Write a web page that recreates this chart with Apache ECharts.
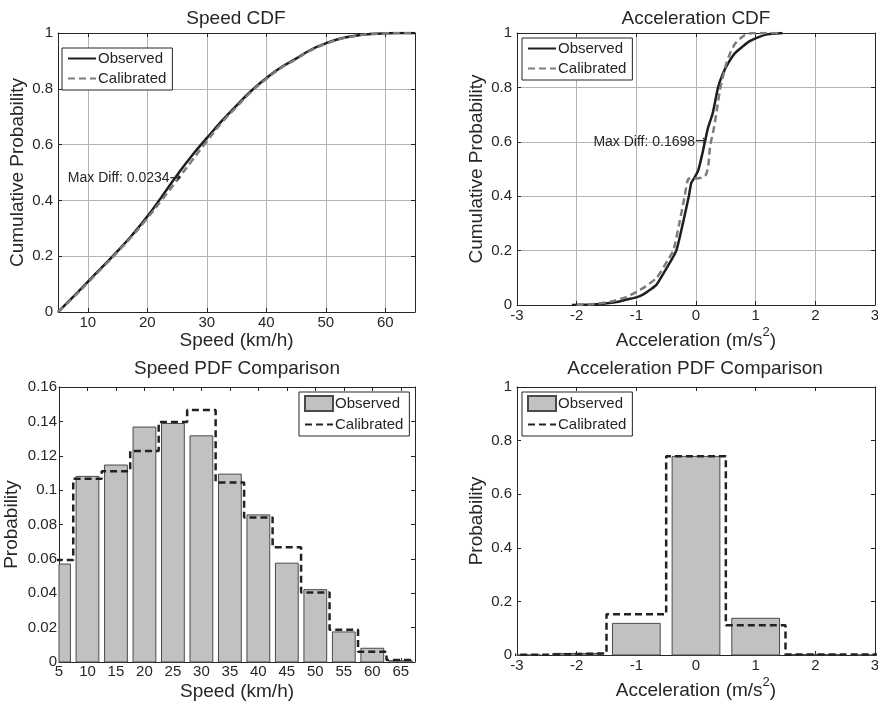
<!DOCTYPE html>
<html>
<head>
<meta charset="utf-8">
<script src="https://cdn.jsdelivr.net/npm/echarts@6/dist/echarts.min.js"></script>
<style>
  html, body { margin: 0; padding: 0; background: #fff; }
  #chart { width: 878px; height: 702px; }
</style>
</head>
<body>
<div id="chart"></div>
<script>
// ---------------- data ----------------
// Speed CDF (km/h vs cumulative probability)
const speedCdfX          = [5, 7.5, 10, 12.5, 15, 17.5, 20, 22.5, 25, 27.5, 30, 32.5, 35, 37.5, 40, 42.5, 45, 47.5, 50, 52.5, 55, 57.5, 60, 62.5, 65];
const speedCdfObserved   = [0, 0.053, 0.108, 0.163, 0.218, 0.277, 0.342, 0.415, 0.49, 0.56, 0.623, 0.684, 0.74, 0.793, 0.838, 0.877, 0.908, 0.94, 0.963, 0.98, 0.99, 0.996, 0.999, 1, 1];
const speedCdfCalibrated = [0, 0.051, 0.105, 0.16, 0.215, 0.273, 0.336, 0.403, 0.472, 0.542, 0.612, 0.678, 0.735, 0.79, 0.835, 0.875, 0.906, 0.938, 0.961, 0.979, 0.99, 0.996, 0.999, 1, 1];
const speedCdfTicks      = [10, 20, 30, 40, 50, 60];
const speedMaxDiff       = 0.0234;
const speedMaxDiffAt     = [25.8, 0.48];

// Acceleration CDF (m/s^2 vs cumulative probability)
const accelObsX = [-2.08, -1.8, -1.56, -1.3, -1.16, -1.0, -0.89, -0.77, -0.66, -0.54, -0.44, -0.33, -0.22, -0.12, -0.08, -0.02, 0.04, 0.1, 0.15, 0.2, 0.28, 0.37, 0.45, 0.54, 0.65, 0.78, 0.9, 1.06, 1.2, 1.45];
const accelObsP = [0, 0.002, 0.005, 0.012, 0.02, 0.028, 0.038, 0.056, 0.075, 0.118, 0.155, 0.2, 0.3, 0.4, 0.448, 0.47, 0.497, 0.55, 0.6, 0.65, 0.705, 0.8, 0.85, 0.889, 0.925, 0.95, 0.97, 0.986, 0.995, 1];
const accelCalX = [-2.0, -1.7, -1.44, -1.16, -0.89, -0.66, -0.47, -0.38, -0.28, -0.19, -0.15, -0.12, -0.05, 0.1, 0.17, 0.21, 0.23, 0.25, 0.3, 0.34, 0.41, 0.51, 0.58, 0.66, 0.8, 0.95, 1.4];
const accelCalP = [0, 0.004, 0.012, 0.03, 0.062, 0.1, 0.166, 0.2, 0.3, 0.4, 0.45, 0.465, 0.465, 0.468, 0.48, 0.52, 0.57, 0.6, 0.65, 0.705, 0.8, 0.889, 0.93, 0.962, 0.99, 1, 1];
const accelMaxDiff   = 0.1698;
const accelMaxDiffAt = [0.19, 0.6];

// Speed PDF (bins of 5 km/h)
const speedBins          = [5, 10, 15, 20, 25, 30, 35, 40, 45, 50, 55, 60, 65];
const speedPdfObserved   = [0.057, 0.108, 0.1146, 0.1367, 0.1388, 0.1316, 0.1093, 0.0856, 0.0575, 0.0421, 0.0175, 0.008, 0.0008];
const speedPdfCalibrated = [0.0594, 0.1066, 0.111, 0.1227, 0.1396, 0.1466, 0.1045, 0.0841, 0.0668, 0.0404, 0.0188, 0.006, 0.0012];
const speedPdfTicks      = [5, 10, 15, 20, 25, 30, 35, 40, 45, 50, 55, 60, 65];

// Acceleration PDF (bins of 1 m/s^2)
const accelBins          = [-3, -2, -1, 0, 1, 2, 3];
const accelPdfObserved   = [0, 0.006, 0.118, 0.741, 0.137, 0.002, 0];
const accelPdfCalibrated = [0.001, 0.006, 0.152, 0.742, 0.111, 0.002, 0.001];

// ---------------- styling helpers ----------------
const FONT = '"Liberation Sans", Arial, Helvetica, "DejaVu Sans", sans-serif';
const INK = '#262626';
const GRIDLINE = '#b4b4b4';
const names = {
  sObs: 'Observed', sCal: 'Calibrated',
  aObs: 'Observed', aCal: 'Calibrated',
  spObs: 'Observed', spCal: 'Calibrated',
  apObs: 'Observed', apCal: 'Calibrated'
};

const panels = [
  { left: 58,  top: 33,  width: 357, height: 279 },
  { left: 517, top: 33,  width: 358, height: 272 },
  { left: 59,  top: 387, width: 356, height: 275 },
  { left: 517, top: 387, width: 358, height: 268 }
];

function nameStyle(extra) {
  return Object.assign({ color: INK, fontSize: 19, fontFamily: FONT }, extra || {});
}
const accelName = 'Acceleration (m/s{sup|2})';
const accelNameStyle = nameStyle({
  lineHeight: 30,
  rich: { sup: { fontSize: 13, fontFamily: FONT, color: INK, verticalAlign: 'top', lineHeight: 14 } }
});

// bottom + top axis pair for one grid
function xAxes(g, o) {
  const tick = { show: true, inside: true, length: 4, lineStyle: { color: INK, width: 1 } };
  if (o.ticks) tick.customValues = o.ticks;
  const label = { color: INK, fontSize: 15, fontFamily: FONT, margin: o.margin };
  if (o.ticks) label.customValues = o.ticks;
  const base = { type: 'value', gridIndex: g, min: o.min, max: o.max, axisLine: { show: true, onZero: false, lineStyle: { color: INK, width: 1 } } };
  if (o.interval) base.interval = o.interval;
  return [
    Object.assign({}, base, {
      position: 'bottom', axisTick: tick, axisLabel: label,
      splitLine: { show: !!o.grid, lineStyle: { color: GRIDLINE, width: 1 } },
      name: o.name, nameLocation: 'middle', nameGap: o.nameGap, nameTextStyle: o.nameStyle
    }),
    Object.assign({}, base, {
      position: 'top', axisTick: tick, axisLabel: { show: false }, splitLine: { show: false }
    })
  ];
}
// left + right axis pair for one grid
function yAxes(g, o) {
  const tick = { show: true, inside: true, length: 4, lineStyle: { color: INK, width: 1 } };
  const base = { type: 'value', gridIndex: g, min: o.min, max: o.max, interval: o.interval, axisLine: { show: true, onZero: false, lineStyle: { color: INK, width: 1 } } };
  return [
    Object.assign({}, base, {
      position: 'left', axisTick: tick,
      axisLabel: { color: INK, fontSize: 15, fontFamily: FONT, margin: o.margin },
      splitLine: { show: !!o.grid, lineStyle: { color: GRIDLINE, width: 1 } },
      name: o.name, nameLocation: 'middle', nameGap: o.nameGap, nameTextStyle: nameStyle()
    }),
    Object.assign({}, base, {
      position: 'right', axisTick: tick, axisLabel: { show: false }, splitLine: { show: false }
    })
  ];
}

const zip = (xs, ys) => xs.map((x, i) => [x, ys[i]]);
// stair outline across each bin's full width
function stairs(centers, values, binWidth) {
  const out = [];
  centers.forEach((c, i) => { out.push([c - binWidth / 2, values[i]]); out.push([c + binWidth / 2, values[i]]); });
  return out;
}
// histogram bars, 80% of the bin width, clipped to the plot area
function barRenderer(binWidth) {
  return function (params, api) {
    const x = api.value(0), y = api.value(1);
    const half = binWidth * 0.4;
    const p0 = api.coord([x - half, y]);
    const p1 = api.coord([x + half, 0]);
    const cs = params.coordSys;
    const shape = echarts.graphic.clipRectByRect(
      { x: p0[0], y: p0[1], width: p1[0] - p0[0], height: p1[1] - p0[1] },
      { x: cs.x, y: cs.y, width: cs.width, height: cs.height }
    );
    return shape && {
      type: 'rect', shape: shape,
      style: { fill: '#c1c1c1', stroke: '#4a4a4a', lineWidth: 1 }
    };
  };
}

// line-only legend entries: hide the marker that line series add to their icon
const lineOnly = name => ({ name: name, itemStyle: { opacity: 0 } });

function legendAt(left, top, keys, isPdf) {
  const data = isPdf
    ? [{ name: keys[0], icon: 'rect' }, lineOnly(keys[1])]
    : keys.map(lineOnly);
  return {
    left: left, top: top, orient: 'vertical',
    backgroundColor: '#fff', borderColor: INK, borderWidth: 1,
    padding: [3, 6, 4, 5], itemGap: 5, itemWidth: 28, itemHeight: isPdf ? 15 : 14,
    selectedMode: false,
    formatter: n => names[n],
    textStyle: { color: INK, fontSize: 15, fontFamily: FONT, padding: [0, 0, 0, -3] },
    data: data
  };
}

function maxDiffMark(at, value) {
  return {
    symbol: 'circle', symbolSize: 1, silent: true,
    itemStyle: { color: 'rgba(0,0,0,0)' },
    label: {
      show: true, position: 'left', distance: 0,
      formatter: 'Max Diff: ' + value.toFixed(4) + '{arr|\u2192}',
      color: INK, fontSize: 14, fontFamily: FONT,
      rich: { arr: { fontFamily: '"DejaVu Sans"', fontSize: 14, color: INK } }
    },
    data: [{ coord: at }]
  };
}

const obsLine = { color: '#1e1e1e', width: 2.5 };
const calLine = { color: '#7c7c7c', width: 2.5, type: [7, 4] };
const stairLine = { color: '#222', width: 2.5, type: [7, 4] };

const option = {
  animation: false,
  backgroundColor: '#fff',
  grid: panels.map(p => Object.assign({ outerBoundsMode: 'none', containLabel: false }, p)),
  xAxis: [].concat(
    xAxes(0, { min: 5, max: 65, ticks: speedCdfTicks, grid: true, margin: 3, name: 'Speed (km/h)', nameGap: 18, nameStyle: nameStyle() }),
    xAxes(1, { min: -3, max: 3, interval: 1, grid: true, margin: 3, name: accelName, nameGap: 21, nameStyle: accelNameStyle }),
    xAxes(2, { min: 5, max: 67.5, ticks: speedPdfTicks, grid: false, margin: 2, name: 'Speed (km/h)', nameGap: 20, nameStyle: nameStyle() }),
    xAxes(3, { min: -3, max: 3, interval: 1, grid: false, margin: 3, name: accelName, nameGap: 21, nameStyle: accelNameStyle })
  ),
  yAxis: [].concat(
    yAxes(0, { min: 0, max: 1, interval: 0.2, grid: true, margin: 5, name: 'Cumulative Probability', nameGap: 31 }),
    yAxes(1, { min: 0, max: 1, interval: 0.2, grid: true, margin: 5, name: 'Cumulative Probability', nameGap: 31 }),
    yAxes(2, { min: 0, max: 0.16, interval: 0.02, grid: false, margin: 2, name: 'Probability', nameGap: 38 }),
    yAxes(3, { min: 0, max: 1, interval: 0.2, grid: false, margin: 5, name: 'Probability', nameGap: 31 })
  ),
  legend: [
    legendAt(62, 48, ['sObs', 'sCal'], false),
    legendAt(522, 38, ['aObs', 'aCal'], false),
    legendAt(299, 392, ['spObs', 'spCal'], true),
    legendAt(522, 392, ['apObs', 'apCal'], true)
  ],
  graphic: [
    { type: 'text', x: 236, y: 19, style: { text: 'Speed CDF', font: '19px ' + FONT, fill: INK, align: 'center', verticalAlign: 'middle' } },
    { type: 'text', x: 696, y: 19, style: { text: 'Acceleration CDF', font: '19px ' + FONT, fill: INK, align: 'center', verticalAlign: 'middle' } },
    { type: 'text', x: 237, y: 369, style: { text: 'Speed PDF Comparison', font: '19px ' + FONT, fill: INK, align: 'center', verticalAlign: 'middle' } },
    { type: 'text', x: 695, y: 369, style: { text: 'Acceleration PDF Comparison', font: '19px ' + FONT, fill: INK, align: 'center', verticalAlign: 'middle' } }
  ],
  series: [
    { name: 'sObs', type: 'line', xAxisIndex: 0, yAxisIndex: 0, data: zip(speedCdfX, speedCdfObserved),
      symbol: 'none', smooth: 0.5, lineStyle: obsLine, itemStyle: { color: obsLine.color } },
    { name: 'sCal', type: 'line', xAxisIndex: 0, yAxisIndex: 0, data: zip(speedCdfX, speedCdfCalibrated),
      symbol: 'none', smooth: 0.5, lineStyle: calLine, itemStyle: { color: calLine.color },
      markPoint: maxDiffMark(speedMaxDiffAt, speedMaxDiff) },

    { name: 'aObs', type: 'line', xAxisIndex: 2, yAxisIndex: 2, data: zip(accelObsX, accelObsP),
      symbol: 'none', smooth: 0.2, lineStyle: obsLine, itemStyle: { color: obsLine.color } },
    { name: 'aCal', type: 'line', xAxisIndex: 2, yAxisIndex: 2, data: zip(accelCalX, accelCalP),
      symbol: 'none', smooth: 0.2, lineStyle: calLine, itemStyle: { color: calLine.color },
      markPoint: maxDiffMark(accelMaxDiffAt, accelMaxDiff) },

    { name: 'spObs', type: 'custom', xAxisIndex: 4, yAxisIndex: 4, data: zip(speedBins, speedPdfObserved),
      encode: { x: 0, y: 1 }, renderItem: barRenderer(5),
      itemStyle: { color: '#c1c1c1', borderColor: '#4a4a4a', borderWidth: 1 } },
    { name: 'spCal', type: 'line', xAxisIndex: 4, yAxisIndex: 4, data: stairs(speedBins, speedPdfCalibrated, 5),
      symbol: 'none', clip: true, z: 3, lineStyle: stairLine, itemStyle: { color: stairLine.color } },

    { name: 'apObs', type: 'custom', xAxisIndex: 6, yAxisIndex: 6, data: zip(accelBins, accelPdfObserved),
      encode: { x: 0, y: 1 }, renderItem: barRenderer(1),
      itemStyle: { color: '#c1c1c1', borderColor: '#4a4a4a', borderWidth: 1 } },
    { name: 'apCal', type: 'line', xAxisIndex: 6, yAxisIndex: 6, data: stairs(accelBins, accelPdfCalibrated, 1),
      symbol: 'none', clip: true, z: 3, lineStyle: stairLine, itemStyle: { color: stairLine.color } }
  ]
};

const chart = echarts.init(document.getElementById('chart'), null, { renderer: 'canvas' });
chart.setOption(option);
</script>
</body>
</html>
